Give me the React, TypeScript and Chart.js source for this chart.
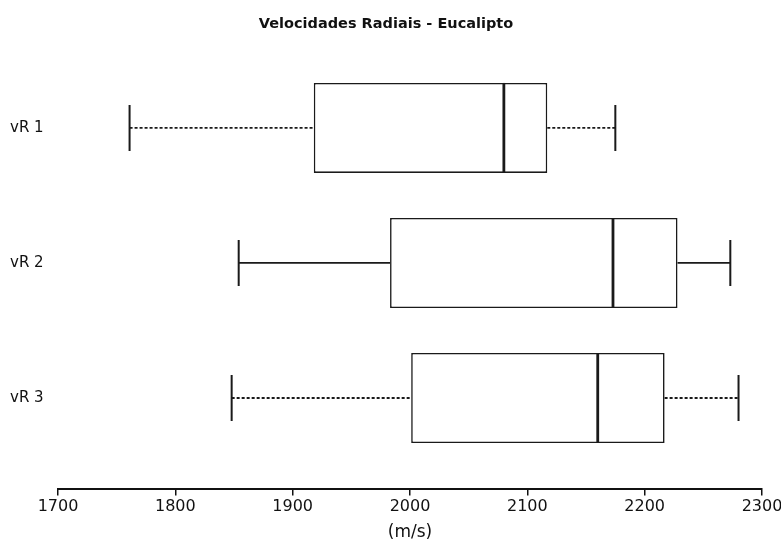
import React, { useEffect, useRef } from "react";
import { Chart, registerables } from "chart.js";

Chart.register(...registerables);

const categories = ["vR 1", "vR 2", "vR 3"];
const mins = [1761, 1854, 1848];
const q1s = [1918, 1983, 2001];
const medians = [2080, 2173, 2160];
const q3s = [2117, 2228, 2217];
const maxs = [2175, 2273, 2280];
const xTicks = [1700, 1800, 1900, 2000, 2100, 2200, 2300];

const whiskerDash = [[3, 2], [], [3, 2]];

const boxPlugin = {
  id: "boxWhiskers",
  afterDatasetsDraw(chart: any) {
    const { ctx, scales } = chart;
    const xs = scales.x;
    const ys = scales.y;
    ctx.save();
    ctx.strokeStyle = "#1a1a1a";
    categories.forEach((_, i) => {
      const yc = ys.getPixelForValue(i + 1);
      const yT = ys.getPixelForValue(i + 1 - 0.17);
      const yB = ys.getPixelForValue(i + 1 + 0.17);
      const boxT = ys.getPixelForValue(i + 1 - 0.333);
      const boxB = ys.getPixelForValue(i + 1 + 0.333);
      ctx.lineWidth = 1.8;
      ctx.setLineDash(whiskerDash[i]);
      ctx.beginPath();
      ctx.moveTo(xs.getPixelForValue(mins[i]), yc);
      ctx.lineTo(xs.getPixelForValue(q1s[i]), yc);
      ctx.moveTo(xs.getPixelForValue(q3s[i]), yc);
      ctx.lineTo(xs.getPixelForValue(maxs[i]), yc);
      ctx.stroke();
      ctx.setLineDash([]);
      ctx.lineWidth = 2;
      ctx.beginPath();
      const xm = xs.getPixelForValue(mins[i]);
      const xM = xs.getPixelForValue(maxs[i]);
      ctx.moveTo(xm, yT);
      ctx.lineTo(xm, yB);
      ctx.moveTo(xM, yT);
      ctx.lineTo(xM, yB);
      ctx.stroke();
      ctx.lineWidth = 2.8;
      const xmed = xs.getPixelForValue(medians[i]);
      ctx.beginPath();
      ctx.moveTo(xmed, boxT);
      ctx.lineTo(xmed, boxB);
      ctx.stroke();
    });
    ctx.restore();
  },
};

export default function App() {
  const ref = useRef<HTMLCanvasElement | null>(null);
  useEffect(() => {
    if (!ref.current) return;
    const chart = new Chart(ref.current, {
      type: "bar",
      data: {
        datasets: [
          {
            data: categories.map((_, i) => ({ y: i + 1, x: [q1s[i], q3s[i]] })) as any,
            backgroundColor: "#ffffff",
            borderColor: "#1a1a1a",
            borderWidth: 1.6,
            borderSkipped: false,
            categoryPercentage: 1,
            barPercentage: 0.667,
          },
        ],
      },
      options: {
        indexAxis: "y",
        animation: false,
        responsive: false,
        layout: { padding: { left: 10, right: 19, top: 0, bottom: 0 } },
        plugins: {
          legend: { display: false },
          tooltip: { enabled: false },
          title: {
            display: true,
            text: "Velocidades Radiais - Eucalipto",
            color: "#111",
            font: { family: "DejaVu Sans", size: 14.5, weight: "bold", lineHeight: 1.2 },
            padding: { top: 16, bottom: 27 },
          },
        },
        scales: {
          x: {
            type: "linear",
            min: 1700,
            max: 2300,
            afterBuildTicks: (s: any) => {
              s.ticks = xTicks.map((v) => ({ value: v }));
            },
            afterFit: (s: any) => {
              s.paddingRight = 0;
              s.paddingLeft = 0;
            },
            grid: { drawOnChartArea: false, drawTicks: true, tickLength: 7, color: "#111", lineWidth: 1.5 },
            border: { display: true, color: "#111", width: 2 },
            ticks: {
              color: "#111",
              padding: 3,
              maxRotation: 0,
              callback: (v: any) => String(v),
              font: { family: "DejaVu Sans", size: 16, lineHeight: 1 },
            },
            title: {
              display: true,
              text: "(m/s)",
              color: "#111",
              font: { family: "DejaVu Sans", size: 17, lineHeight: 1 },
              padding: { top: 6.5, bottom: 0 },
            },
          },
          y: {
            type: "linear",
            reverse: true,
            offset: false,
            min: 0.5,
            max: 3.67,
            afterBuildTicks: (s: any) => {
              s.ticks = categories.map((_, i) => ({ value: i + 1 }));
            },
            afterFit: (s: any) => {
              s.width = 48;
            },
            grid: { display: false, offset: false },
            border: { display: false },
            ticks: {
              color: "#111",
              crossAlign: "far",
              callback: (v: any) => categories[Number(v) - 1] ?? "",
              font: { family: "DejaVu Sans", size: 15 },
            },
          },
        },
      },
      plugins: [boxPlugin],
    } as any);
    return () => chart.destroy();
  }, []);
  return (
    <div style={{ position: "fixed", left: 0, top: 0, width: 781, height: 541, background: "#fff" }}>
      <canvas ref={ref} width={781} height={541} style={{ width: 781, height: 541, display: "block" }} />
    </div>
  );
}
